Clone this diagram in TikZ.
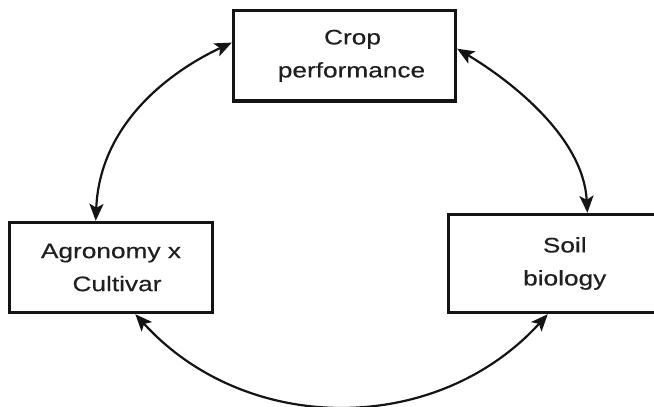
\documentclass[tikz,border=0pt]{standalone}
\usepackage{fontspec}
\setmainfont{Liberation Sans}[FakeStretch=1.25,FakeBold=0.4]
\usetikzlibrary{arrows.meta,calc}
\begin{document}
\begin{tikzpicture}[x=1pt,y=-1pt,
  box/.style={draw=black!92, line width=3.4pt, inner sep=0pt, align=center,
    font=\fontsize{21}{33}\selectfont, text=black!88},
  link/.style={line width=2.2pt, draw=black!92,
    {Stealth[length=17pt,width=14pt,inset=4pt]}-{Stealth[length=17pt,width=14pt,inset=4pt]}}]
\useasboundingbox (0,0) rectangle (654,407);
\clip (0,0) rectangle (654,407);
\node[box, minimum width=222pt, minimum height=90.5pt] (crop) at (344.5,55.75)
  {\hspace*{16pt}Crop\\\hspace*{14pt}performance};
\node[box, minimum width=203pt, minimum height=90pt] (agro) at (111,267.5)
  {Agronomy x\\\hspace*{12pt}Cultivar};
\node[box, minimum width=232.5pt, minimum height=98pt] (soil) at (564.75,263.5)
  {Soil\\biology};
\coordinate (cw) at ($(crop.north west)!0.36!(crop.south west)$);
\coordinate (ce) at ($(crop.north east)!0.425!(crop.south east)$);
\coordinate (an) at ($(agro.north west)!0.426!(agro.north east)$);
\coordinate (as) at ($(agro.south west)!0.618!(agro.south east)$);
\coordinate (sn) at ($(soil.north west)!0.596!(soil.north east)$);
\coordinate (ss) at ($(soil.south west)!0.428!(soil.south east)$);
\draw[link] (cw) .. controls +(-62,29) and +(4,-97) .. (an);
\draw[link] (ce) .. controls +(55,33) and +(-4,-75) .. (sn);
\draw[link] (as) .. controls +(111,122) and +(-111,122) .. (ss);
\end{tikzpicture}
\end{document}
